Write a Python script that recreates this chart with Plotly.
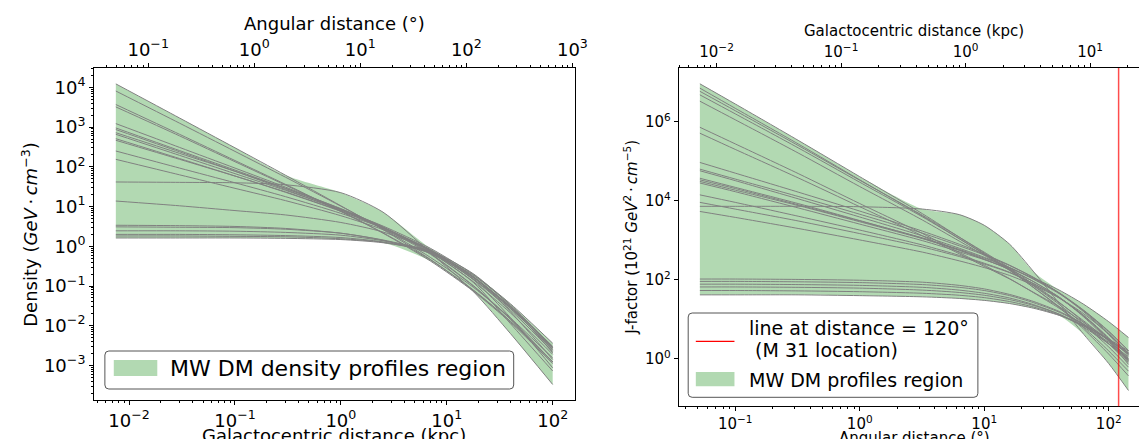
import numpy as np
import plotly.graph_objects as go

W, H = 1147, 439
FONT = "DejaVu Sans"
GRAY = "#808080"
GREEN_FILL = "rgb(178,217,178)"

# ---------------- Left panel: density profiles (values are log10 of GeV/cm^3) ----------------
r_kpc = [0.0075, 0.03, 0.1, 0.3, 1, 2.5, 7, 18, 40, 100]
rho_01 = [4.09, 3.23, 2.48, 1.79, 1.02, 0.42, -0.33, -1.12, -1.89, -2.91]
rho_02 = [3.91, 3.10, 2.39, 1.74, 1.01, 0.44, -0.28, -1.04, -1.81, -2.81]
rho_03 = [3.57, 2.82, 2.16, 1.56, 0.88, 0.33, -0.37, -1.14, -1.92, -2.95]
rho_04 = [3.51, 2.78, 2.13, 1.54, 0.88, 0.34, -0.34, -1.11, -1.89, -2.91]
rho_05 = [3.09, 2.49, 1.97, 1.49, 0.94, 0.48, -0.12, -0.83, -1.57, -2.57]
rho_06 = [2.98, 2.41, 1.92, 1.46, 0.93, 0.47, -0.15, -0.90, -1.68, -2.72]
rho_07 = [2.94, 2.38, 1.89, 1.43, 0.91, 0.48, -0.10, -0.79, -1.52, -2.52]
rho_08 = [2.86, 2.34, 1.89, 1.46, 0.95, 0.49, -0.18, -1.00, -1.83, -2.91]
rho_09 = [2.82, 2.29, 1.83, 1.41, 0.92, 0.51, -0.05, -0.72, -1.45, -2.44]
rho_10 = [2.71, 2.21, 1.77, 1.36, 0.88, 0.47, -0.12, -0.84, -1.61, -2.65]
rho_11 = [2.67, 2.19, 1.77, 1.37, 0.89, 0.45, -0.20, -1.01, -1.84, -2.91]
rho_12 = [2.40, 1.97, 1.60, 1.25, 0.83, 0.46, -0.08, -0.77, -1.53, -2.55]
rho_13 = [2.19, 1.80, 1.46, 1.15, 0.77, 0.42, -0.10, -0.78, -1.52, -2.54]
rho_14 = [1.14, 1.02, 0.90, 0.79, 0.60, 0.36, -0.10, -0.79, -1.56, -2.60]
rho_15 = [1.62, 1.61, 1.60, 1.55, 1.35, 0.86, -0.16, -1.15, -2.20, -3.48]
rho_16 = [0.53, 0.52, 0.50, 0.45, 0.33, 0.15, -0.18, -0.80, -1.55, -2.62]
rho_17 = [0.49, 0.48, 0.47, 0.43, 0.33, 0.16, -0.14, -0.74, -1.48, -2.55]
rho_18 = [0.39, 0.39, 0.38, 0.35, 0.28, 0.14, -0.12, -0.78, -1.65, -2.85]
rho_19 = [0.30, 0.30, 0.29, 0.27, 0.22, 0.11, -0.15, -0.85, -1.80, -3.06]
rho_20 = [0.26, 0.26, 0.25, 0.24, 0.19, 0.10, -0.17, -0.92, -1.95, -3.14]
rho_21 = [0.21, 0.21, 0.21, 0.20, 0.17, 0.09, -0.12, -0.70, -1.50, -2.68]
rho_profiles = [rho_01, rho_02, rho_03, rho_04, rho_05, rho_06, rho_07, rho_08, rho_09, rho_10,
                rho_11, rho_12, rho_13, rho_14, rho_15, rho_16, rho_17, rho_18, rho_19, rho_20, rho_21]
DEG_PER_KPC_LEFT = 10 ** 0.815  # top-axis conversion of the left panel

# ---------------- Right panel: J-factor (values are log10 of 1e21 GeV^2 cm^-5) ----------------
theta_deg = [0.052, 0.1, 0.32, 1, 3.2, 6.3, 10, 16, 25, 40, 63, 100, 144]
J_01 = [6.96, 6.45, 5.53, 4.61, 3.67, 3.08, 2.68, 2.25, 1.80, 1.30, 0.75, 0.12, -0.43]
J_02 = [6.85, 6.34, 5.44, 4.53, 3.61, 3.04, 2.65, 2.24, 1.80, 1.32, 0.79, 0.20, -0.31]
J_03 = [6.77, 6.28, 5.40, 4.52, 3.63, 3.08, 2.70, 2.30, 1.88, 1.43, 0.93, 0.38, -0.10]
J_04 = [6.68, 6.20, 5.34, 4.47, 3.59, 3.04, 2.66, 2.27, 1.84, 1.38, 0.87, 0.30, -0.21]
J_05 = [6.52, 6.05, 5.21, 4.36, 3.51, 2.98, 2.62, 2.24, 1.85, 1.42, 0.96, 0.45, 0.01]
J_06 = [5.86, 5.44, 4.69, 3.93, 3.17, 2.69, 2.37, 2.03, 1.67, 1.28, 0.85, 0.38, -0.03]
J_07 = [5.71, 5.30, 4.58, 3.85, 3.11, 2.66, 2.34, 2.02, 1.68, 1.32, 0.92, 0.49, 0.11]
J_08 = [4.97, 4.70, 4.22, 3.74, 3.23, 2.90, 2.65, 2.37, 2.06, 1.67, 1.21, 0.65, 0.12]
J_09 = [4.80, 4.55, 4.11, 3.66, 3.18, 2.86, 2.63, 2.36, 2.05, 1.66, 1.19, 0.61, 0.07]
J_10 = [4.76, 4.51, 4.05, 3.59, 3.11, 2.80, 2.57, 2.31, 2.01, 1.65, 1.22, 0.69, 0.21]
J_11 = [4.57, 4.34, 3.93, 3.50, 3.05, 2.75, 2.52, 2.26, 1.95, 1.56, 1.08, 0.49, -0.08]
J_12 = [4.53, 4.31, 3.90, 3.49, 3.06, 2.77, 2.55, 2.31, 2.02, 1.67, 1.23, 0.70, 0.20]
J_13 = [4.49, 4.27, 3.88, 3.47, 3.04, 2.75, 2.52, 2.26, 1.95, 1.56, 1.06, 0.45, -0.14]
J_14 = [4.45, 4.23, 3.82, 3.41, 2.99, 2.71, 2.51, 2.29, 2.04, 1.74, 1.38, 0.94, 0.54]
J_15 = [4.15, 3.96, 3.61, 3.26, 2.88, 2.62, 2.42, 2.19, 1.90, 1.55, 1.10, 0.53, -0.02]
J_16 = [3.96, 3.79, 3.49, 3.17, 2.83, 2.59, 2.40, 2.18, 1.90, 1.54, 1.09, 0.51, -0.05]
J_17 = [3.73, 3.58, 3.30, 3.01, 2.70, 2.48, 2.31, 2.11, 1.86, 1.54, 1.14, 0.63, 0.14]
J_18 = [3.86, 3.86, 3.86, 3.85, 3.79, 3.65, 3.38, 2.90, 2.20, 1.40, 0.62, -0.12, -0.80]
J_19 = [2.02, 2.02, 2.01, 1.99, 1.94, 1.86, 1.77, 1.63, 1.45, 1.20, 0.88, 0.48, 0.12]
J_20 = [1.96, 1.96, 1.95, 1.93, 1.88, 1.81, 1.73, 1.60, 1.42, 1.18, 0.87, 0.48, 0.15]
J_21 = [1.89, 1.89, 1.88, 1.86, 1.81, 1.74, 1.66, 1.54, 1.37, 1.13, 0.80, 0.38, 0.00]
J_22 = [1.82, 1.82, 1.81, 1.79, 1.74, 1.68, 1.61, 1.50, 1.35, 1.13, 0.83, 0.42, 0.05]
J_23 = [1.73, 1.73, 1.72, 1.70, 1.66, 1.61, 1.55, 1.45, 1.31, 1.11, 0.84, 0.48, 0.16]
J_24 = [1.62, 1.62, 1.62, 1.60, 1.57, 1.53, 1.48, 1.40, 1.28, 1.10, 0.84, 0.50, 0.20]
J_profiles = [J_01, J_02, J_03, J_04, J_05, J_06, J_07, J_08, J_09, J_10, J_11, J_12,
              J_13, J_14, J_15, J_16, J_17, J_18, J_19, J_20, J_21, J_22, J_23, J_24]
KPC_PER_DEG_RIGHT = 10 ** -0.851  # top-axis conversion of the right panel
M31_ANGLE = 120

# ---------------- Text ----------------
left_xtitle = "Galactocentric distance (kpc)"
left_toptitle = "Angular distance (°)"
left_ytitle = "Density (<i>GeV</i>\u2009·\u2009<i>cm</i><sup>−3</sup>)"
right_xtitle = "Angular distance (°)"
right_toptitle = "Galactocentric distance (kpc)"
right_ytitle = "J-factor (10<sup>21</sup> <i>GeV</i><sup>2</sup>\u2009·\u2009<i>cm</i><sup>−5</sup>)"
legend_left = "MW DM density profiles region"
legend_right_line1 = "line at distance = 120°"
legend_right_line2 = "\u00a0(M 31 location)"
legend_right_fill = "MW DM profiles region"


def pow_label(p):
    return "10<sup>" + (str(p) if p >= 0 else "−" + str(-p)) + "</sup>"


def minor_vals(lo, hi):
    return [m * 10.0 ** k for k in range(lo, hi + 1) for m in range(2, 10)]


fig = go.Figure()
SMOOTH = 0.7


def add_panel(xvals, logs, xa, ya, dummy_x, dummy_axis):
    arr = np.power(10.0, np.array(logs, dtype=float))
    lo = arr.min(axis=0)
    hi = arr.max(axis=0)
    fig.add_trace(go.Scatter(x=xvals, y=lo, xaxis=xa, yaxis=ya, mode="lines",
                             line=dict(width=0, shape="spline", smoothing=SMOOTH),
                             hoverinfo="skip", showlegend=False))
    fig.add_trace(go.Scatter(x=xvals, y=hi, xaxis=xa, yaxis=ya, mode="lines",
                             line=dict(width=0, shape="spline", smoothing=SMOOTH),
                             fill="tonexty", fillcolor=GREEN_FILL,
                             hoverinfo="skip", showlegend=False))
    for row in arr:
        fig.add_trace(go.Scatter(x=xvals, y=row, xaxis=xa, yaxis=ya, mode="lines",
                                 line=dict(color=GRAY, width=1, shape="spline", smoothing=SMOOTH),
                                 hoverinfo="skip", showlegend=False))
    # invisible trace so that the secondary (top) axis is created
    fig.add_trace(go.Scatter(x=dummy_x, y=hi, xaxis=dummy_axis, yaxis=ya, mode="lines",
                             line=dict(width=0), opacity=0, hoverinfo="skip", showlegend=False))


add_panel(r_kpc, rho_profiles, "x", "y", np.array(r_kpc) * DEG_PER_KPC_LEFT, "x2")
add_panel(theta_deg, J_profiles, "x3", "y2", np.array(theta_deg) * KPC_PER_DEG_RIGHT, "x4")


def fx(px):
    return px / W


def fy(py):
    return 1 - py / H


axis_common = dict(type="log", showgrid=False, zeroline=False, showline=True,
                   linecolor="black", linewidth=1, ticks="outside", ticklen=4,
                   tickwidth=1, tickcolor="black")
minor_common = dict(ticks="outside", ticklen=2, tickcolor="black")
fontL = dict(family=FONT, size=18, color="black")
fontR = dict(family=FONT, size=15, color="black")

L_x0, L_x1, L_y0, L_y1 = 87, 573, 60, 392
R_x0, R_y0, R_y1 = 678.4, 60, 398.3

fig.update_layout(
    width=W, height=H, autosize=False,
    margin=dict(l=0, r=0, t=0, b=0),
    paper_bgcolor="white", plot_bgcolor="white",
    showlegend=False,
    xaxis=dict(axis_common, domain=[fx(L_x0), fx(L_x1)], anchor="y",
               range=[-2.331, 2.206], tickvals=[10.0 ** p for p in range(-2, 3)],
               ticktext=[pow_label(p) for p in range(-2, 3)], tickfont=fontL,
               minor=dict(minor_common, tickvals=minor_vals(-3, 2))),
    xaxis2=dict(axis_common, overlaying="x", side="top", anchor="y",
                range=[-1.511, 3.02], tickvals=[10.0 ** p for p in range(-1, 4)],
                ticktext=[pow_label(p) for p in range(-1, 4)], tickfont=fontL,
                minor=dict(minor_common, tickvals=minor_vals(-2, 3))),
    yaxis=dict(axis_common, domain=[fy(L_y1), fy(L_y0)], anchor="x", mirror=True,
               range=[-3.87, 4.49], tickvals=[10.0 ** p for p in range(-3, 5)],
               ticktext=[pow_label(p) for p in range(-3, 5)], tickfont=fontL,
               minor=dict(minor_common, tickvals=minor_vals(-4, 4))),
    xaxis3=dict(axis_common, domain=[fx(R_x0), 1.0], anchor="y2",
                range=[-1.454, 2.267], tickvals=[10.0 ** p for p in range(-1, 3)],
                ticktext=[pow_label(p) for p in range(-1, 3)], tickfont=fontR,
                minor=dict(minor_common, tickvals=minor_vals(-2, 2))),
    xaxis4=dict(axis_common, overlaying="x3", side="top", anchor="y2",
                range=[-2.304, 1.417], tickvals=[10.0 ** p for p in range(-2, 2)],
                ticktext=[pow_label(p) for p in range(-2, 2)], tickfont=fontR,
                minor=dict(minor_common, tickvals=minor_vals(-3, 1))),
    yaxis2=dict(axis_common, domain=[fy(R_y1), fy(R_y0)], anchor="x3",
                range=[-1.2, 7.36], tickvals=[10.0 ** p for p in range(0, 7, 2)],
                ticktext=[pow_label(p) for p in range(0, 7, 2)], tickfont=fontR),
)

annotations = [
    dict(text=left_ytitle, x=fx(22), y=fy(226), textangle=-90, font=fontL),
    dict(text=left_toptitle, x=fx(330), y=fy(16), font=fontL),
    dict(text=left_xtitle, x=fx(330), y=fy(427), font=fontL),
    dict(text=right_ytitle, x=fx(630), y=fy(229), textangle=-90, font=fontR),
    dict(text=right_toptitle, x=fx(916.7), y=fy(23), font=fontR),
    dict(text=right_xtitle, x=fx(916.7), y=fy(430), font=fontR),
    dict(text=legend_left, x=fx(162), y=fy(360), xanchor="left", font=dict(family=FONT, size=22, color="black")),
    dict(text=legend_right_line1, x=fx(747), y=fy(320), xanchor="left", font=dict(family=FONT, size=19, color="black")),
    dict(text=legend_right_line2, x=fx(747), y=fy(342), xanchor="left", font=dict(family=FONT, size=19, color="black")),
    dict(text=legend_right_fill, x=fx(747), y=fy(372), xanchor="left", font=dict(family=FONT, size=19, color="black")),
]
for a in annotations:
    a.setdefault("xanchor", "center")
    a.update(xref="paper", yref="paper", yanchor="middle", showarrow=False)
fig.update_layout(annotations=annotations)


def rrect_path(x0, y0, x1, y1, r=4):
    X0, X1 = fx(x0), fx(x1)
    Y0, Y1 = fy(y0), fy(y1)
    rx, ry = r / W, r / H
    return (f"M {X0+rx},{Y0} L {X1-rx},{Y0} Q {X1},{Y0} {X1},{Y0-ry} "
            f"L {X1},{Y1+ry} Q {X1},{Y1} {X1-rx},{Y1} L {X0+rx},{Y1} "
            f"Q {X0},{Y1} {X0},{Y1+ry} L {X0},{Y0-ry} Q {X0},{Y0} {X0+rx},{Y0} Z")


shapes = [
    # M31 vertical line
    dict(type="line", xref="x3", yref="y2 domain", x0=M31_ANGLE, x1=M31_ANGLE, y0=0, y1=1,
         line=dict(color="rgba(255,0,0,0.7)", width=1.5)),
    # left legend
    dict(type="path", xref="paper", yref="paper", path=rrect_path(98, 343, 511.5, 381),
         fillcolor="white", line=dict(color="#555555", width=1)),
    dict(type="rect", xref="paper", yref="paper", x0=fx(107), x1=fx(151), y0=fy(368), y1=fy(352),
         fillcolor=GREEN_FILL, line=dict(width=0)),
    # right legend
    dict(type="path", xref="paper", yref="paper", path=rrect_path(688, 305, 981, 389.3),
         fillcolor="white", line=dict(color="#555555", width=1)),
    dict(type="line", xref="paper", yref="paper", x0=fx(695.7), x1=fx(734.8), y0=fy(333.3), y1=fy(333.3),
         line=dict(color="red", width=1.2)),
    dict(type="rect", xref="paper", yref="paper", x0=fx(695.7), x1=fx(734.8), y0=fy(378.3), y1=fy(364),
         fillcolor=GREEN_FILL, line=dict(width=0)),
]
fig.update_layout(shapes=shapes)

fig.write_html("out.html")
